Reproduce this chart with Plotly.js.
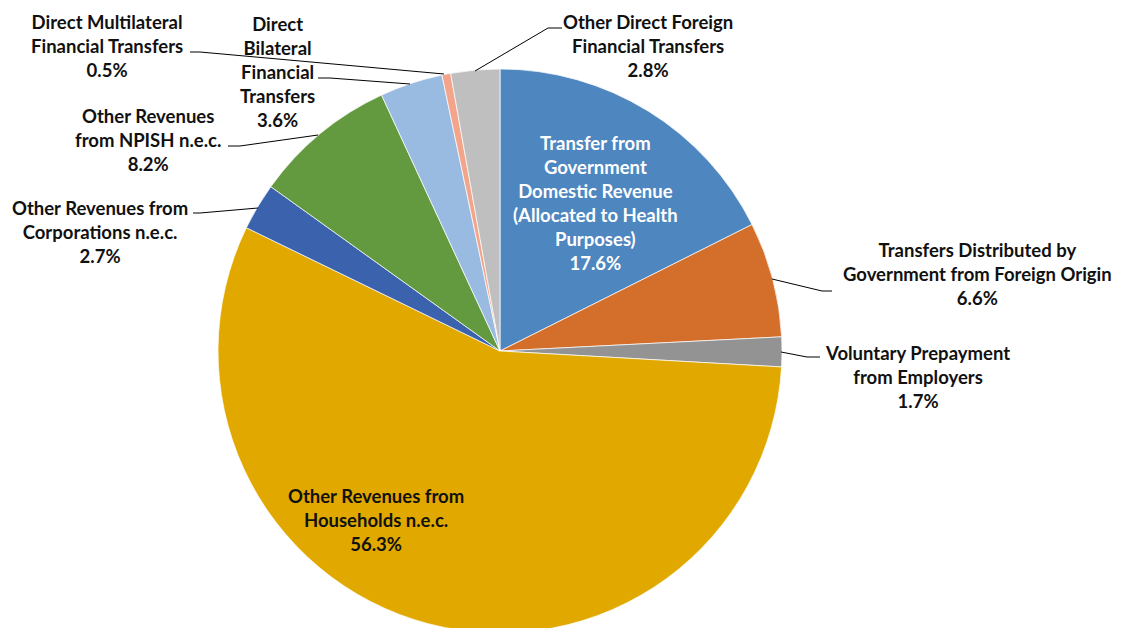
<!DOCTYPE html>
<html>
<head>
<meta charset="utf-8">
<script src="https://cdn.plot.ly/plotly-3.0.1.min.js"></script>
<style>
html,body{margin:0;padding:0;overflow:hidden;background:#fff;}
#chart{width:1125px;height:640px;}
</style>
</head>
<body>
<div id="chart"></div>
<script>
// ---- Data (clockwise from 12 o'clock) ----
const categories = [
  "Transfer from<br>Government<br>Domestic Revenue<br>(Allocated to Health<br>Purposes)",
  "Transfers Distributed by<br>Government from Foreign Origin",
  "Voluntary Prepayment<br>from Employers",
  "Other Revenues from<br>Households n.e.c.",
  "Other Revenues from<br>Corporations n.e.c.",
  "Other Revenues<br>from NPISH n.e.c.",
  "Direct<br>Bilateral<br>Financial<br>Transfers",
  "Direct Multilateral<br>Financial Transfers",
  "Other Direct Foreign<br>Financial Transfers"
];
const shares = [17.6, 6.6, 1.7, 56.3, 2.7, 8.2, 3.6, 0.5, 2.8];

// ---- Styles ----
const colors = ["#4E86BF", "#D36F2B", "#939393", "#E1A900", "#3B63AD",
                "#649A3F", "#9ABBE1", "#F2A58A", "#BFBFBF"];
const labelColors = ["#FFFFFF", "#111", "#111", "#111", "#111", "#111", "#111", "#111", "#111"];
// label centres in page pixels
const labelPos = [[595,203],[977,274],[918,377],[376,520],[100,232],[148,140],[277,72],[107,46],[648,46]];
// leader lines in page pixels (null = inside label)
const leaders = [
  null,
  [[772,279],[822,291],[832,291]],
  [[781,352],[807,357],[820,357]],
  null,
  [[258,208],[200,213],[193,213]],
  [[318,135],[240,146],[228,146]],
  [[410,84],[330,78],[318,78]],
  [[444,74],[200,52],[190,52]],
  [[475,71],[548,28],[562,28]]
];

const W = 1125, H = 640;
const px = x => x / W;
const py = y => 1 - y / H;

const cx = 500, cy = 351, R = 282;

const trace = {
  type: "pie",
  values: shares,
  labels: categories,
  sort: false,
  direction: "clockwise",
  rotation: 0,
  textinfo: "none",
  hoverinfo: "none",
  marker: {colors: colors, line: {color: "rgba(255,255,255,0.7)", width: 1}},
  domain: {x: [px(cx - R), px(cx + R)], y: [py(cy + R), py(cy - R)]},
  showlegend: false
};

const annotations = categories.map((c, i) => ({
  xref: "paper", yref: "paper",
  x: px(labelPos[i][0]), y: py(labelPos[i][1]),
  xanchor: "center", yanchor: "middle",
  align: "center",
  showarrow: false,
  text: c + "<br>" + shares[i].toFixed(1) + "%",
  font: {family: "Lato, 'Open Sans', sans-serif", size: 18.5, weight: 700, color: labelColors[i]}
}));

const shapes = leaders.filter(l => l).map(l => ({
  type: "path",
  xref: "paper", yref: "paper",
  path: l.map((p, k) => (k ? "L" : "M") + px(p[0]) + "," + py(p[1])).join(" "),
  line: {color: "#000", width: 1}
}));

const layout = {
  width: W, height: H,
  margin: {l: 0, r: 0, t: 0, b: 0},
  paper_bgcolor: "#fff",
  plot_bgcolor: "#fff",
  annotations: annotations,
  shapes: shapes
};

Plotly.newPlot("chart", [trace], layout, {displayModeBar: false, staticPlot: true});
</script>
</body>
</html>
